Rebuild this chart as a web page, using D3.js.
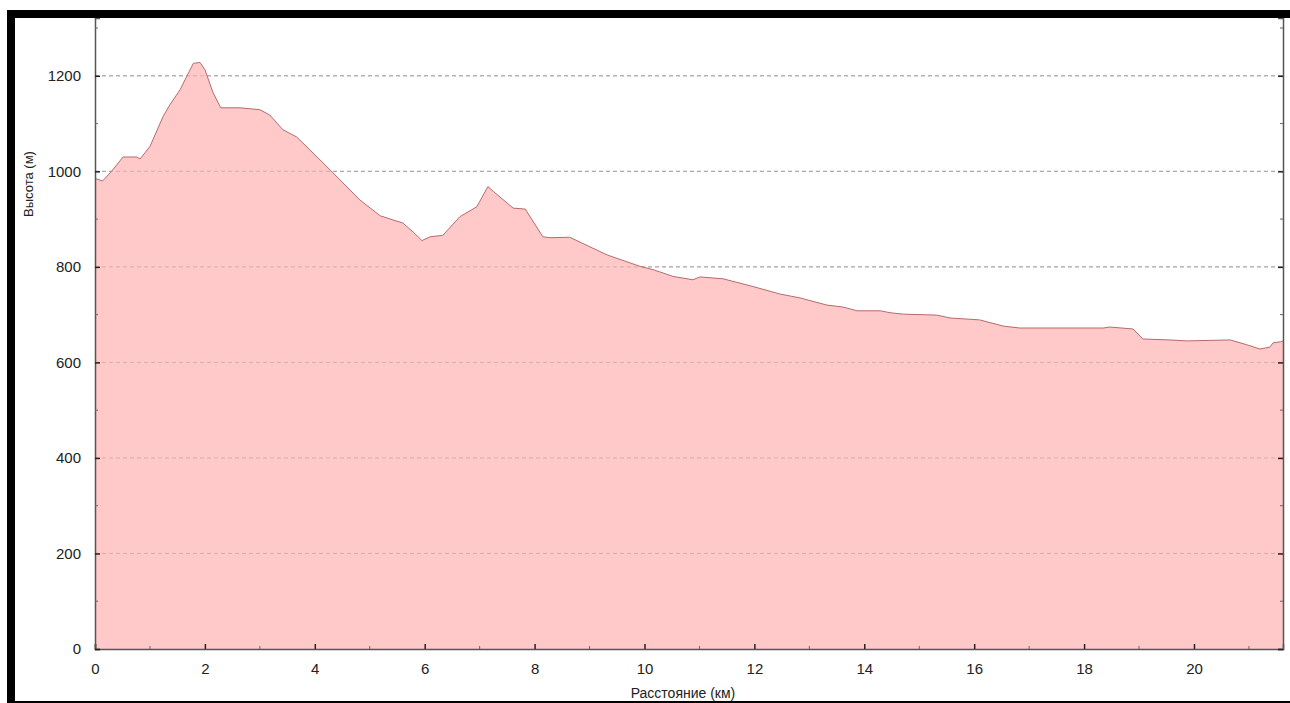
<!DOCTYPE html>
<html>
<head>
<meta charset="utf-8">
<script src="https://cdn.jsdelivr.net/npm/d3@7"></script>
<style>
  body { margin: 0; background: #fff; }
  svg { display: block; font-family: "Liberation Sans", Arial, sans-serif; }
</style>
</head>
<body>
<div id="main"></div>
<script>
// профиль высоты: расстояние (км) и высота (м)
const distKm = [0, 0.14, 0.3, 0.51, 0.76, 0.82, 1.0, 1.24, 1.36, 1.55, 1.67, 1.79, 1.91, 2.0, 2.15, 2.29,
  2.64, 3.0, 3.18, 3.42, 3.67, 3.91, 4.33, 4.82, 5.19, 5.43, 5.6, 5.79, 5.95, 6.1, 6.33, 6.64, 6.95,
  7.15, 7.25, 7.61, 7.83, 8.15, 8.28, 8.64, 9.32, 9.92, 10.16, 10.52, 10.88, 11.01, 11.43, 11.97,
  12.47, 12.83, 13.32, 13.61, 13.87, 14.29, 14.47, 14.71, 15.32, 15.56, 16.1, 16.53, 16.83, 18.35,
  18.47, 18.89, 19.07, 19.56, 19.87, 20.66, 20.96, 21.2, 21.38, 21.44, 21.57, 21.62];
const elevM = [985, 980, 1000, 1030, 1030, 1026, 1052, 1115, 1139, 1171, 1199, 1226, 1228, 1213, 1164, 1133,
  1133, 1129, 1118, 1087, 1072, 1045, 997, 940, 907, 898, 892, 873, 855, 863, 866, 905, 926,
  968, 958, 923, 921, 863, 861, 862, 825, 801, 794, 780, 773, 779, 775, 759,
  743, 735, 720, 716, 708, 708, 704, 701, 699, 693, 689, 676, 672, 672,
  674, 670, 649, 647, 645, 647, 637, 628, 632, 641, 643, 645];

const xTicks = [0, 2, 4, 6, 8, 10, 12, 14, 16, 18, 20];
const yTicks = [0, 200, 400, 600, 800, 1000, 1200];
const xLabel = 'Расстояние (км)';
const yLabel = 'Высота (м)';

const W = 1290, H = 703;
const mLeft = 95, mRight = 1283, mTop = 18, mBottom = 649;

const svg = d3.select('#main').append('svg')
  .attr('width', W)
  .attr('height', H);

const data = distKm.map((d, i) => ({ x: d, y: elevM[i] }));

const xScale = d3.scaleLinear().domain([0, 21.62]).range([mLeft, mRight]);
const yScale = d3.scaleLinear().domain([0, 1321]).range([mBottom, mTop]);

// сетка
svg.append('g')
  .selectAll('line')
  .data(yTicks.filter(d => d > 0))
  .join('line')
    .attr('x1', mLeft).attr('x2', mRight)
    .attr('y1', d => yScale(d)).attr('y2', d => yScale(d))
    .attr('stroke', '#a8a8a8')
    .attr('stroke-dasharray', '4,3')
    .attr('stroke-width', 1);

// область
const area = d3.area()
  .x(d => xScale(d.x))
  .y0(mBottom)
  .y1(d => yScale(d.y));

svg.append('path')
  .datum(data)
  .attr('d', area)
  .attr('fill', '#ffc9c9');

// сетка поверх заливки тоже видна
svg.append('g')
  .selectAll('line')
  .data(yTicks.filter(d => d > 0))
  .join('line')
    .attr('x1', mLeft).attr('x2', mRight)
    .attr('y1', d => yScale(d)).attr('y2', d => yScale(d))
    .attr('stroke', '#b89a9a')
    .attr('stroke-opacity', 0.6)
    .attr('stroke-dasharray', '4,3')
    .attr('stroke-width', 1);

const line = d3.line()
  .x(d => xScale(d.x))
  .y(d => yScale(d.y));

svg.append('path')
  .datum(data)
  .attr('d', line)
  .attr('fill', 'none')
  .attr('stroke', '#b86a6a')
  .attr('stroke-width', 1);

// оси, засечки внутрь
const minorX = d3.range(1, 22, 2);
const minorY = d3.range(100, 1400, 200);

const xAxis = d3.axisBottom(xScale).tickValues(xTicks).tickSize(-5).tickPadding(14).tickFormat(d3.format('d'));
const gx = svg.append('g').attr('transform', `translate(0,${mBottom})`).call(xAxis);
gx.selectAll('text').attr('font-size', 15).attr('fill', '#222').attr('font-family', '"Liberation Sans", Arial, sans-serif');
gx.append('g').selectAll('line').data(minorX).join('line')
  .attr('x1', d => xScale(d)).attr('x2', d => xScale(d))
  .attr('y1', 0).attr('y2', -3).attr('stroke', '#666');

const yAxis = d3.axisLeft(yScale).tickValues(yTicks).tickSize(-5).tickPadding(14).tickFormat(d3.format('d'));
const gy = svg.append('g').attr('transform', `translate(${mLeft},0)`).call(yAxis);
gy.selectAll('text').attr('font-size', 15).attr('fill', '#222').attr('font-family', '"Liberation Sans", Arial, sans-serif');
gy.append('g').selectAll('line').data(minorY).join('line')
  .attr('y1', d => yScale(d)).attr('y2', d => yScale(d))
  .attr('x1', 0).attr('x2', 3).attr('stroke', '#666');

const yAxisR = d3.axisRight(yScale).tickValues(yTicks).tickSize(-5).tickFormat('');
const gr = svg.append('g').attr('transform', `translate(${mRight},0)`).call(yAxisR);
gr.append('g').selectAll('line').data(minorY).join('line')
  .attr('y1', d => yScale(d)).attr('y2', d => yScale(d))
  .attr('x1', 0).attr('x2', -3).attr('stroke', '#666');

[gx, gy, gr].forEach(g => {
  g.select('.domain').attr('stroke', '#555').attr('stroke-width', 1.5);
  g.selectAll('.tick line').attr('stroke', '#222').attr('stroke-width', 1.5);
});

// подписи осей
svg.append('text')
  .attr('x', 683)
  .attr('y', 698)
  .attr('text-anchor', 'middle')
  .attr('font-size', 14)
  .attr('fill', '#222')
  .text(xLabel);

svg.append('text')
  .attr('transform', 'translate(33,184) rotate(-90)')
  .attr('text-anchor', 'middle')
  .attr('font-size', 13)
  .attr('fill', '#222')
  .text(yLabel);

// чёрная рамка скриншота
svg.append('rect').attr('x', 7).attr('y', 10).attr('width', W - 7).attr('height', 8).attr('fill', '#000');
svg.append('rect').attr('x', 7).attr('y', 10).attr('width', 8).attr('height', H - 10).attr('fill', '#000');
svg.append('rect').attr('x', 7).attr('y', 701).attr('width', W - 7).attr('height', 2).attr('fill', '#000');
</script>
</body>
</html>
